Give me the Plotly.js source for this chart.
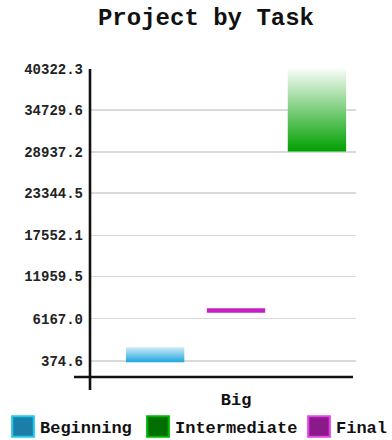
<!DOCTYPE html>
<html>
<head>
<meta charset="utf-8">
<script src="https://cdn.plot.ly/plotly-3.0.1.min.js"></script>
<style>
  html, body { margin: 0; padding: 0; background: #ffffff; }
  #chart { width: 392px; height: 440px; }
</style>
</head>
<body>
<div id="chart"></div>
<script>
// Floating task bars: each series spans from its start value to its end value.
// Bars sit left to right in this order inside the single category.
const categories = ['Big'];
const seriesNames = ['Beginning', 'Final', 'Intermediate'];
const seriesStart = [200, 6970, 29050];
const seriesEnd = [2250, 7580, 40322.3];

// Value axis ticks and their printed labels.
const tickValues = [374.6, 6167.0, 11959.5, 17552.1, 23344.5, 28937.2, 34729.6, 40322.3];
const tickLabels = ['374.6', '6167.0', '11959.5', '17552.1', '23344.5', '28937.2', '34729.6', '40322.3'];

// Bar fills run light at the top to saturated at the bottom; legend swatches are solid.
const barGradients = [
  ['#cfeaf7', '#1ca6e0'],
  ['#c41fc4', '#c41fc4'],
  ['#f7fcf7', '#00a000']
];
const swatchFill = ['#1a7ea8', '#8a1a8a', '#006e00'];
const swatchEdge = ['#22c8e6', '#e444e4', '#00b400'];
// Each series has its own legend box so the row can be laid out freely.
const legendIds = ['legend', 'legend3', 'legend2'];
const legendLeftPx = { legend: 0, legend2: 135, legend3: 296 };

const MONO = 'Liberation Mono, Courier New, monospace';

const traces = seriesNames.map((name, i) => ({
  type: 'bar',
  name: name,
  x: categories,
  base: [seriesStart[i]],
  y: [seriesEnd[i] - seriesStart[i]],
  marker: { color: swatchFill[i], line: { color: swatchEdge[i], width: 1.2 } },
  legend: legendIds[i],
  hoverinfo: 'skip'
}));

const W = 392, H = 440;
const M = { l: 90, r: 36, t: 69, b: 63, autoexpand: false };
const PW = W - M.l - M.r, PH = H - M.t - M.b;

const layout = {
  width: W,
  height: H,
  margin: M,
  paper_bgcolor: '#ffffff',
  plot_bgcolor: '#ffffff',
  title: {
    text: '<b>Project by Task</b>',
    font: { family: MONO, size: 24, color: '#111111' },
    x: 206 / W, xanchor: 'center',
    y: 1 - 17 / H, yanchor: 'middle'
  },
  barmode: 'group',
  bargap: 0.0876,
  bargroupgap: 0.279,
  xaxis: {
    type: 'category',
    range: [-0.549, 0.451],
    showgrid: false,
    zeroline: false,
    showline: false,
    ticks: '',
    ticklabelstandoff: 10,
    tickfont: { family: MONO, size: 17, color: '#111111', weight: 'bold' },
    fixedrange: true
  },
  yaxis: {
    range: [-1814, 40322.3],
    tickmode: 'array',
    tickvals: tickValues,
    ticktext: tickLabels,
    showgrid: true,
    gridcolor: '#dadada',
    gridwidth: 1.5,
    zeroline: false,
    showline: false,
    ticks: '',
    ticklabelstandoff: 6,
    tickfont: { family: MONO, size: 14, color: '#222222', weight: 'bold' },
    fixedrange: true
  },
  shapes: [
    // value axis line, running slightly past the category axis
    { type: 'line', xref: 'paper', yref: 'paper', x0: 0, x1: 0, y0: -13 / PH, y1: 1,
      line: { color: '#111111', width: 2.6 } },
    // category axis line, starting slightly left of the value axis
    { type: 'line', xref: 'paper', yref: 'paper', x0: -16 / PW, x1: 263 / PW, y0: 0, y1: 0,
      line: { color: '#111111', width: 2.6 } }
  ],
  showlegend: true
};

Object.keys(legendLeftPx).forEach(id => {
  layout[id] = {
    xref: 'paper', yref: 'paper',
    x: (legendLeftPx[id] - M.l) / PW, xanchor: 'left',
    y: -(427 - (H - M.b)) / PH, yanchor: 'middle',
    orientation: 'h',
    bgcolor: 'rgba(0,0,0,0)',
    borderwidth: 0,
    font: { family: MONO, size: 17, color: '#111111', weight: 'bold' }
  };
});

const gd = document.getElementById('chart');

function paintBars() {
  const svg = gd.querySelector('.main-svg');
  if (!svg) return;
  let defs = svg.querySelector('defs');
  if (!defs) {
    defs = document.createElementNS('http://www.w3.org/2000/svg', 'defs');
    svg.insertBefore(defs, svg.firstChild);
  }
  barGradients.forEach((stops, i) => {
    const id = 'bar-fill-' + i;
    if (defs.querySelector('#' + id)) return;
    const g = document.createElementNS('http://www.w3.org/2000/svg', 'linearGradient');
    g.setAttribute('id', id);
    g.setAttribute('x1', '0'); g.setAttribute('y1', '0');
    g.setAttribute('x2', '0'); g.setAttribute('y2', '1');
    stops.forEach((c, k) => {
      const s = document.createElementNS('http://www.w3.org/2000/svg', 'stop');
      s.setAttribute('offset', String(k));
      s.setAttribute('stop-color', c);
      g.appendChild(s);
    });
    defs.appendChild(g);
  });
  gd.querySelectorAll('.barlayer .trace').forEach((tr, i) => {
    tr.querySelectorAll('path').forEach(p => {
      p.style.fill = 'url(#bar-fill-' + i + ')';
      p.style.stroke = 'none';
    });
  });
  // larger square swatches in the legends
  gd.querySelectorAll('.legendpoints path').forEach(p => {
    p.setAttribute('transform', 'translate(23,0) scale(1.8,1.7)');
  });
}

Plotly.newPlot(gd, traces, layout, { displayModeBar: false, staticPlot: true }).then(paintBars);
gd.on && gd.on('plotly_afterplot', paintBars);
</script>
</body>
</html>
